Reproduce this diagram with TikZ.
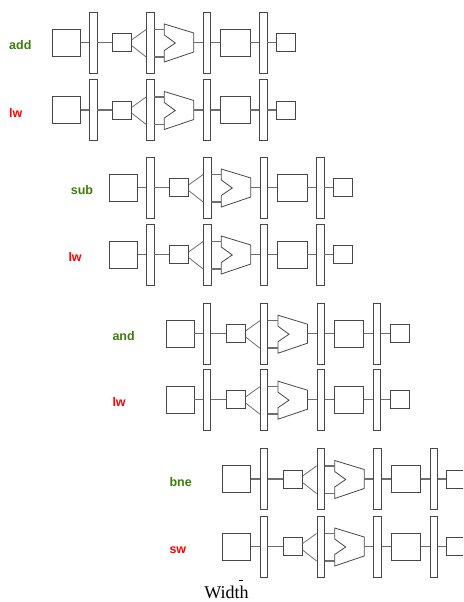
\documentclass[tikz,border=0pt]{standalone}
\usepackage{fontspec}
\setmainfont{Liberation Serif}
\newfontfamily\labelfont{Liberation Sans}
\usetikzlibrary{calc}
\definecolor{instgreen}{RGB}{60,125,10}
\definecolor{wiregray}{RGB}{110,110,110}
\definecolor{boxgray}{RGB}{70,70,70}

\begin{document}
\begin{tikzpicture}[x=1pt, y=-1pt,
  unit/.style={draw=boxgray, line width=0.8pt, fill=white, inner sep=0pt},
  bigbox/.style={unit, minimum width=28pt, minimum height=27pt},
  smallbox/.style={unit, minimum width=19pt, minimum height=18pt},
  latch/.style={unit, minimum width=7.5pt, minimum height=61pt},
  wire/.style={draw=wiregray, line width=1.5pt},
  thinwire/.style={draw=wiregray, line width=0.8pt},
  instr/.style={font=\labelfont\bfseries\fontsize{12.5}{14}\selectfont, inner sep=0pt, anchor=base west}]
\useasboundingbox (0,0) rectangle (463,602);
\clip (0,0) rectangle (463,602);

\foreach \i/\x/\y/\lx/\txt/\col in {1/52.3/42.5/9/add/instgreen, 2/52.3/110/9/lw/red,
    3/109.3/187.5/70.7/sub/instgreen, 4/109.3/254.5/68.3/lw/red,
    5/166/333.7/112.3/and/instgreen, 6/166/399.7/112.3/lw/red,
    7/222.7/479/169.3/bne/instgreen, 8/222.7/546.5/169.3/sw/red}{
  \node[instr, text=\col] (op\i) at (\lx,\y+7) {\txt};
  % five stages with latches between them
  \node[bigbox] (im\i) at (\x+14,\y) {};
  \node[latch] (pa\i) at (\x+41,\y) {};
  \node[smallbox] (rf\i) at (\x+70,\y) {};
  \node[latch] (pb\i) at (\x+98,\y) {};
  \draw[boxgray, line width=0.8pt] (\x+112,\y-18.5) -- (\x+141.5,\y-9.5) -- (\x+141.5,\y+9.5)
    -- (\x+112,\y+19.5) -- (\x+112,\y+8) -- (\x+123,\y+0.5) -- (\x+112,\y-7.5) -- cycle;
  \coordinate (ai\i) at (\x+112,\y-13);
  \coordinate (bi\i) at (\x+112,\y+14.5);
  \coordinate (ao\i) at (\x+141.5,\y);
  \node[latch] (pc\i) at (\x+154.7,\y) {};
  \node[bigbox, minimum width=29.3pt] (dm\i) at (\x+183,\y) {};
  \node[latch] (pd\i) at (\x+211,\y) {};
  \node[smallbox] (wb\i) at (\x+233.5,\y) {};
  \path[wire] (im\i) -- (pa\i) (pa\i) -- (rf\i)
    ($(pb\i.east)+(0,-13)$) -- (ai\i) ($(pb\i.east)+(0,14.5)$) -- (bi\i)
    (ao\i) -- (pc\i) (pc\i) -- (dm\i) (dm\i) -- (pd\i) (pd\i) -- (wb\i);
  \path[thinwire] ($(rf\i.east)+(0,-3)$) -- ($(pb\i.west)+(0,-13)$)
    ($(rf\i.east)+(0,3.5)$) -- ($(pb\i.west)+(0,14.5)$);
}

\draw[black, line width=0.8pt] (239,580) -- (243,580);
\node[font=\fontsize{18}{20}\selectfont, inner sep=0pt] (axis) at (226.5,592.5) {Width};
\end{tikzpicture}
\end{document}
